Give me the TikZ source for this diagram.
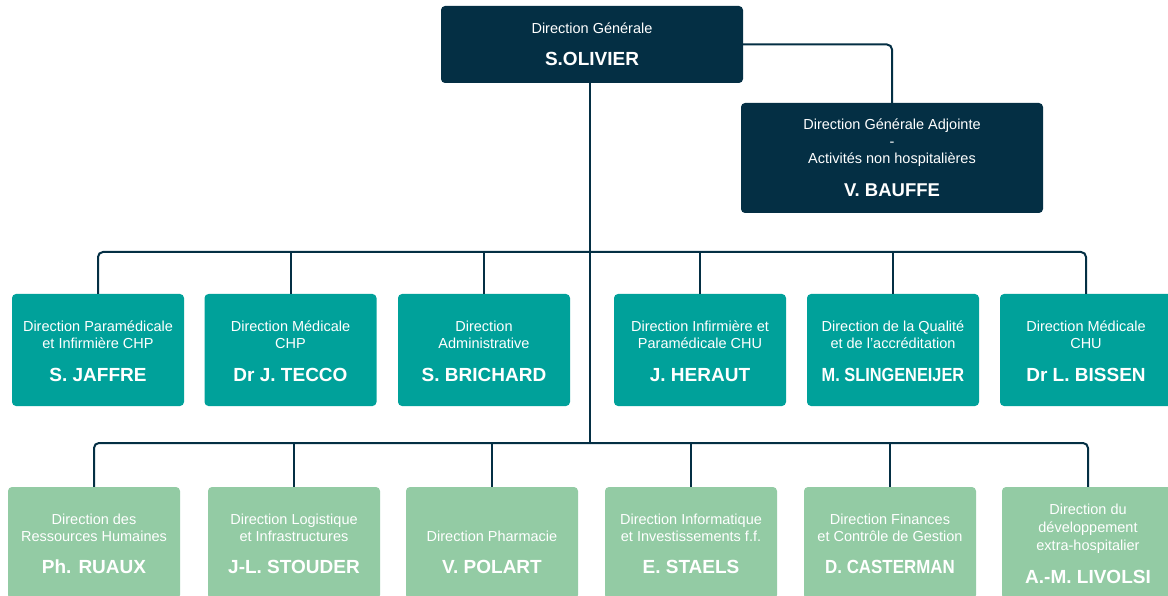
\documentclass[tikz,border=0pt]{standalone}
\usepackage{fontspec}
\usepackage{graphicx}
\setmainfont{Liberation Sans}
\usetikzlibrary{calc}
\definecolor{navy}{RGB}{4,47,68}
\definecolor{tealc}{RGB}{0,161,154}
\definecolor{mint}{RGB}{147,203,164}
\tikzset{
  orgbox/.style={rectangle, rounded corners=4pt, minimum width=172pt, minimum height=112pt, inner sep=0pt},
  navybox/.style={orgbox, fill=navy, minimum width=302pt},
  tealbox/.style={orgbox, fill=tealc},
  mintbox/.style={orgbox, fill=mint},
  small/.style={anchor=base, text=white, inner sep=0pt, font=\fontsize{14.5}{17}\selectfont},
  who/.style={anchor=base, text=white, inner sep=0pt, font=\fontsize{19}{22}\selectfont\bfseries},
  wire/.style={draw=navy, line width=2pt, rounded corners=5pt},
}
\newcommand\bline[4]{\node[small] (#1) at ($(#2.center)+(0,#3)$) {#4};}
\newcommand\bwho[5][]{\node[who,#1] (#2) at ($(#3.center)+(0,#4)$) {#5};}
\begin{document}
\begin{tikzpicture}[x=1pt,y=-1pt]
\useasboundingbox (0,0) rectangle (1168,596);
\clip (0,0) rectangle (1168,596);
% top level
\node[navybox, minimum height=77pt] (top) at (592,44.5) {};
\bline{topa}{top}{-10.5}{Direction Générale}
\bwho{topn}{top}{21.5}{S.OLIVIER}
\node[navybox, minimum height=110pt] (adj) at (892,158) {};
\bline{adja}{adj}{-28}{Direction Générale Adjointe}
\bline{adjb}{adj}{-11}{-}
\bline{adjc}{adj}{6}{Activités non hospitalières}
\bwho[font=\fontsize{18.5}{22}\selectfont\bfseries]{adjn}{adj}{39}{V. BAUFFE}
% teal row
\node[tealbox] (t1) at (98,350) {};
\node[tealbox] (t2) at (290.5,350) {};
\node[tealbox] (t3) at (484,350) {};
\node[tealbox] (t4) at (700,350) {};
\node[tealbox] (t5) at (893,350) {};
\node[tealbox] (t6) at (1086,350) {};
\bline{t1a}{t1}{-19}{Direction Paramédicale}
\bline{t1b}{t1}{-2}{et Infirmière CHP}
\bwho{t1n}{t1}{31}{S. JAFFRE}
\bline{t2a}{t2}{-19}{Direction Médicale}
\bline{t2b}{t2}{-2}{CHP}
\bwho{t2n}{t2}{31}{Dr J. TECCO}
\bline{t3a}{t3}{-19}{Direction}
\bline{t3b}{t3}{-2}{Administrative}
\bwho{t3n}{t3}{31}{S. BRICHARD}
\bline{t4a}{t4}{-19}{Direction Infirmière et}
\bline{t4b}{t4}{-2}{Paramédicale CHU}
\bwho{t4n}{t4}{31}{J. HERAUT}
\bline{t5a}{t5}{-19}{Direction de la Qualité}
\bline{t5b}{t5}{-2}{et de l’accréditation}
\bwho{t5n}{t5}{31}{\scalebox{0.86}[1]{M. SLINGENEIJER}}
\bline{t6a}{t6}{-19}{Direction Médicale}
\bline{t6b}{t6}{-2}{CHU}
\bwho{t6n}{t6}{31}{Dr L. BISSEN}
% mint row
\node[mintbox] (g1) at (94,543) {};
\node[mintbox] (g2) at (294,543) {};
\node[mintbox] (g3) at (492,543) {};
\node[mintbox] (g4) at (691,543) {};
\node[mintbox] (g5) at (890,543) {};
\node[mintbox] (g6) at (1088,543) {};
\bline{g1a}{g1}{-19}{Direction des}
\bline{g1b}{g1}{-2}{Ressources Humaines}
\bwho{g1n}{g1}{30}{Ph. RUAUX}
\bline{g2a}{g2}{-19}{Direction Logistique}
\bline{g2b}{g2}{-2}{et Infrastructures}
\bwho{g2n}{g2}{30}{J-L. STOUDER}
\bline{g3a}{g3}{-2}{Direction Pharmacie}
\bwho{g3n}{g3}{30}{V. POLART}
\bline{g4a}{g4}{-19}{Direction Informatique}
\bline{g4b}{g4}{-2}{et Investissements f.f.}
\bwho{g4n}{g4}{30}{E. STAELS}
\bline{g5a}{g5}{-19}{Direction Finances}
\bline{g5b}{g5}{-2}{et Contrôle de Gestion}
\bwho{g5n}{g5}{30}{\scalebox{0.89}[1]{D. CASTERMAN}}
\bline{g6a}{g6}{-29}{Direction du}
\bline{g6b}{g6}{-11}{développement}
\bline{g6c}{g6}{7}{extra-hospitalier}
\bwho{g6n}{g6}{40}{A.-M. LIVOLSI}
% connectors
\coordinate (j1) at (590,252);
\coordinate (j2) at (590,443);
\draw[wire] (top.east) -| (adj.north);
\draw[wire, rounded corners=0pt] (top.south -| j1) -- (j2);
\draw[wire] (t1.north) |- (j1);
\draw[wire] (t6.north) |- (j1);
\foreach \b in {t2,t3,t4,t5} \draw[wire] (\b.north) -- (\b.north |- j1);
\draw[wire] (g1.north) |- (j2);
\draw[wire] (g6.north) |- (j2);
\foreach \b in {g2,g3,g4,g5} \draw[wire] (\b.north) -- (\b.north |- j2);
\end{tikzpicture}
\end{document}
